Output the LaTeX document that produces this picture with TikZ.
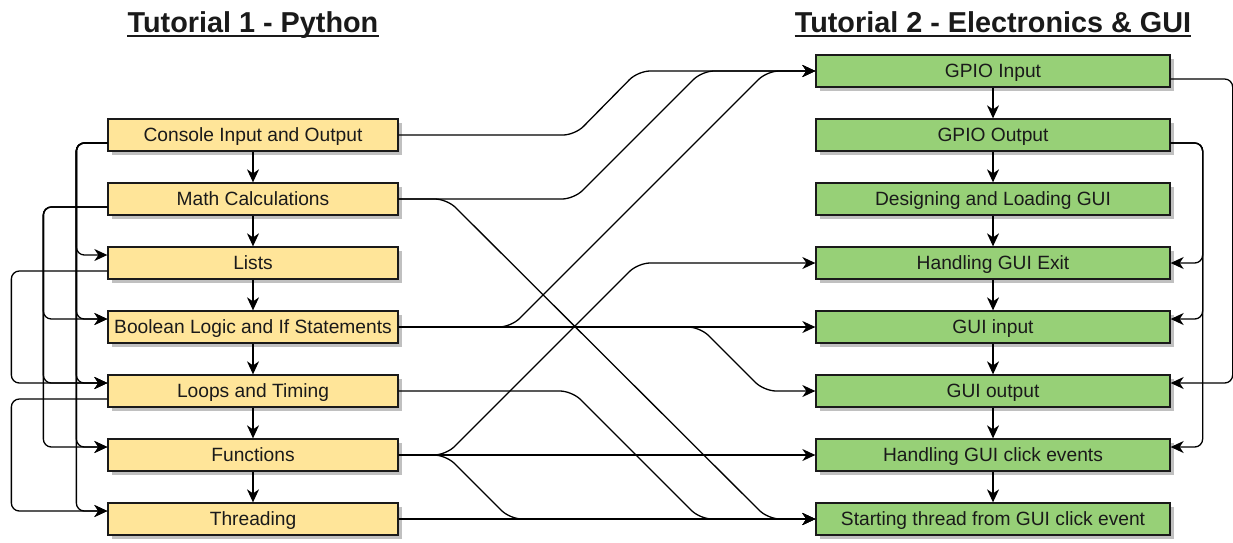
\documentclass[tikz,border=0pt]{standalone}
\usepackage{fontspec}
\setmainfont{Liberation Sans}
\usetikzlibrary{arrows.meta,shadows,calc}
\definecolor{pyfill}{HTML}{FFE599}
\definecolor{guifill}{HTML}{97D077}
\definecolor{ink}{HTML}{1A1A1A}
\definecolor{shade}{HTML}{C0C0C0}

\begin{document}
\begin{tikzpicture}[x=1pt,y=-1pt,
  topic/.style={draw=ink, line width=1.3pt, minimum height=32pt, inner sep=0pt,
    text height=13.8pt, text depth=0pt,
    font=\fontsize{19.2}{23}\selectfont, text=ink,
    drop shadow={shadow xshift=3.5pt, shadow yshift=-3.5pt, opacity=1, fill=shade}},
  py/.style={topic, fill=pyfill, minimum width=290pt},
  gui/.style={topic, fill=guifill, minimum width=354pt},
  link/.style={draw=black, line width=1.3pt, rounded corners=8pt,
    -{Stealth[length=13pt,width=12pt,inset=4pt]}},
  flow/.style={link, rounded corners=12pt},
  heading/.style={font=\bfseries\fontsize{28.8}{34}\selectfont, inner sep=0pt, anchor=base, text=ink}
]
\useasboundingbox (0,0) rectangle (1233,542);

% headings
\node[heading] (h1) at (253,32) {Tutorial 1 - Python};
\node[heading] (h2) at (993,32) {Tutorial 2 - Electronics \& GUI};
\draw[ink, line width=2pt] ($(h1.base west)+(0,4)$) -- ($(h1.base east)+(0,4)$);
\draw[ink, line width=2pt] ($(h2.base west)+(0,4)$) -- ($(h2.base east)+(0,4)$);

% Python topics
\node[py] (con) at (253,135) {Console Input and Output};
\node[py] (mat) at (253,199) {Math Calculations};
\node[py] (lis) at (253,263) {Lists};
\node[py] (boo) at (253,327) {Boolean Logic and If Statements};
\node[py] (loo) at (253,391) {Loops and Timing};
\node[py] (fun) at (253,455) {Functions};
\node[py] (thr) at (253,519) {Threading};

% electronics and GUI topics
\node[gui] (gin) at (993,71)  {GPIO Input};
\node[gui] (gpo) at (993,135) {GPIO Output};
\node[gui] (dsg) at (993,199) {Designing and Loading GUI};
\node[gui] (hex) at (993,263) {Handling GUI Exit};
\node[gui] (gip) at (993,327) {GUI input};
\node[gui] (gou) at (993,391) {GUI output};
\node[gui] (gce) at (993,455) {Handling GUI click events};
\node[gui] (sta) at (993,519) {Starting thread from GUI click event};

% main sequences
\foreach \a/\b in {con/mat, mat/lis, lis/boo, boo/loo, loo/fun, fun/thr,
                   gin/gpo, gpo/dsg, dsg/hex, hex/gip, gip/gou, gou/gce, gce/sta}
  \draw[link] (\a) -- (\b);

% prerequisites on the left side
\foreach \t in {lis, boo, loo, fun, thr}
  \draw[link] ($(con.west)+(0,8)$) -- ++(-31,0) |- ($(\t.west)+(0,-8)$);
\foreach \t in {boo, loo, fun}
  \draw[link] ($(mat.west)+(0,8)$) -- ++(-64,0) |- ($(\t.west)+(0,-8)$);
\draw[link] ($(lis.west)+(0,8)$) -- ++(-96,0) |- ($(loo.west)+(0,-8)$);
\draw[link] ($(loo.west)+(0,8)$) -- ++(-96,0) |- ($(thr.west)+(0,-8)$);

% prerequisites on the right side
\draw[link] ($(gin.east)+(0,8)$) -- ++(62,0) |- ($(gou.east)+(0,-8)$);
\draw[link] ($(gpo.east)+(0,8)$) -- ++(32,0) |- (hex.east);
\foreach \t in {gip, gce}
  \draw[link] ($(gpo.east)+(0,8)$) -- ++(32,0) |- ($(\t.east)+(0,-8)$);

% links between the two tutorials
\draw[flow] (con.east) -- (575,135) -- (638,71) -- (gin.west);
\draw[flow] (mat.east) -- (574,199) -- (702,71) -- (gin.west);
\draw[flow] (boo.east) -- (511,327) -- (767,71) -- (gin.west);
\draw[flow] (mat.east) -- (447,199) -- (768,519) -- (sta.west);
\draw[flow] (fun.east) -- (446,455) -- (638,263) -- (hex.west);
\draw[flow] (fun.east) -- (446,455) -- (510,519) -- (sta.west);
\draw[link] (fun.east) -- (gce.west);
\draw[link] (boo.east) -- (gip.west);
\draw[flow] (boo.east) -- (700,327) -- (764,391) -- (gou.west);
\draw[flow] (loo.east) -- (572,391) -- (700,519) -- (sta.west);
\draw[link] (thr.east) -- (sta.west);
\end{tikzpicture}
\end{document}
